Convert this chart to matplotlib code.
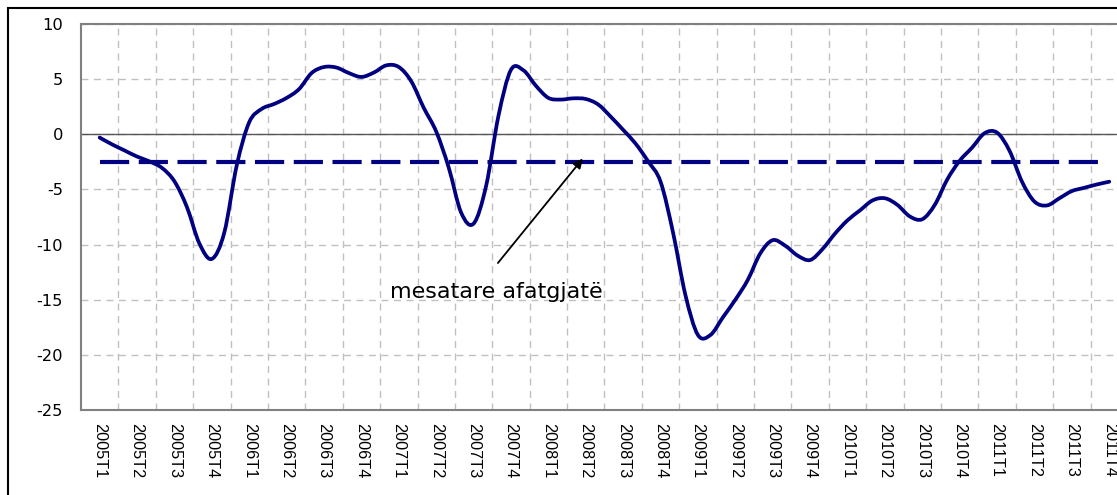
import numpy as np
import matplotlib
matplotlib.use('Agg')
import matplotlib.pyplot as plt
import matplotlib.ticker as mticker
from matplotlib.patches import Rectangle, PathPatch
from matplotlib.path import Path

plt.rcParams['font.family'] = ['Liberation Sans', 'DejaVu Sans']
plt.rcParams['axes.unicode_minus'] = False

#%% data
quarters = ['%dT%d' % (y, q) for y in range(2005, 2012) for q in range(1, 5)]

# monthly readings, 3 per quarter, starting at the 2005T1 mid-point
index_vals = [-0.3, -0.92, -1.47, -2.02, -2.46, -3.05, -4.27, -6.6, -9.9, -11.3,
              -8.9, -2.8, 1.1, 2.3, 2.75, 3.3, 4.1, 5.55, 6.1, 6.05,
              5.55, 5.2, 5.6, 6.25, 6.1, 4.8, 2.4, 0.25, -3.0, -7.1,
              -8.1, -4.7, 1.7, 5.85, 5.8, 4.4, 3.3, 3.15, 3.26, 3.2,
              2.7, 1.6, 0.4, -0.85, -2.45, -4.3, -8.9, -14.6, -18.2, -18.2,
              -16.6, -15.0, -13.2, -10.8, -9.6, -10.1, -11.0, -11.4, -10.4, -9.0,
              -7.8, -6.9, -6.0, -5.8, -6.4, -7.45, -7.7, -6.4, -4.1, -2.4,
              -1.2, 0.1, 0.15, -1.5, -4.3, -6.1, -6.45, -5.8, -5.15, -4.85,
              -4.55, -4.3]
long_run_mean = -2.5
mean_span = (0, 26.75)
note = 'mesatare afatgjatë'


def smooth_path(xs, ys):
    # excel-like smoothed line: catmull-rom segments drawn as cubic beziers
    pts = np.column_stack([xs, ys])
    p = np.vstack([pts[0], pts, pts[-1]])
    verts = [pts[0]]
    codes = [Path.MOVETO]
    for i in range(1, len(p) - 2):
        c1 = p[i] + (p[i + 1] - p[i - 1]) / 6.0
        c2 = p[i + 1] - (p[i + 2] - p[i]) / 6.0
        verts += [c1, c2, p[i + 1]]
        codes += [Path.CURVE4] * 3
    return Path(verts, codes)


#%% plot
fig = plt.figure(figsize=(11.17, 4.95), dpi=100)
ax = fig.add_axes([0.0725, 0.1717, 0.9373, 0.7798])

x = np.arange(len(index_vals)) / 3.0
navy = '#000080'
ax.add_patch(PathPatch(smooth_path(x, index_vals), fill=False, ec=navy, lw=2.7,
                       joinstyle='round', capstyle='round', zorder=4))
ax.hlines(long_run_mean, mean_span[0], mean_span[1], colors=navy, lw=3.0,
          linestyles=(0, (7, 2.3)), zorder=3)
ax.axhline(0, color='#555555', lw=1.0, zorder=2)

ax.set_xlim(-0.5, len(quarters) - 0.5)
ax.set_ylim(-25, 10)
ax.set_xticks(range(len(quarters)))
ax.set_xticklabels(quarters, rotation=270, fontsize=11.7)
ax.xaxis.set_minor_locator(mticker.FixedLocator(np.arange(0.5, len(quarters) - 0.5, 1)))
ax.yaxis.set_major_locator(mticker.MultipleLocator(5))
ax.tick_params(axis='both', which='both', length=0)
ax.tick_params(axis='x', pad=9)
ax.tick_params(axis='y', pad=13)
for t in ax.get_yticklabels():
    t.set_fontfamily('DejaVu Sans')
    t.set_fontsize(11.7)

ax.grid(False)
ax.grid(True, axis='x', which='minor', color='#c0c0c0', lw=1, linestyle=(0, (5, 4)))
ax.grid(True, axis='y', which='major', color='#c0c0c0', lw=1, linestyle=(0, (5, 4)))

for s in ['left', 'top', 'bottom']:
    ax.spines[s].set_color('#808080')
    ax.spines[s].set_linewidth(1.5)
ax.spines['right'].set_visible(False)

ax.annotate('', xy=(12.92, -2.2), xytext=(10.65, -11.67),
            arrowprops=dict(arrowstyle='-|>', color='black', lw=1.3,
                            mutation_scale=14, shrinkA=0, shrinkB=0), zorder=5)
ax.text(10.62, -14.3, note, ha='center', va='center', fontsize=16,
        family='DejaVu Sans')

# outer chart border
fig.patches.append(Rectangle((7.5 / 1117, -0.1), 1.2, (495 - 7.5) / 495 + 0.1,
                             transform=fig.transFigure, fill=False,
                             ec='black', lw=1.5))

fig.savefig('out.png', dpi=100)
